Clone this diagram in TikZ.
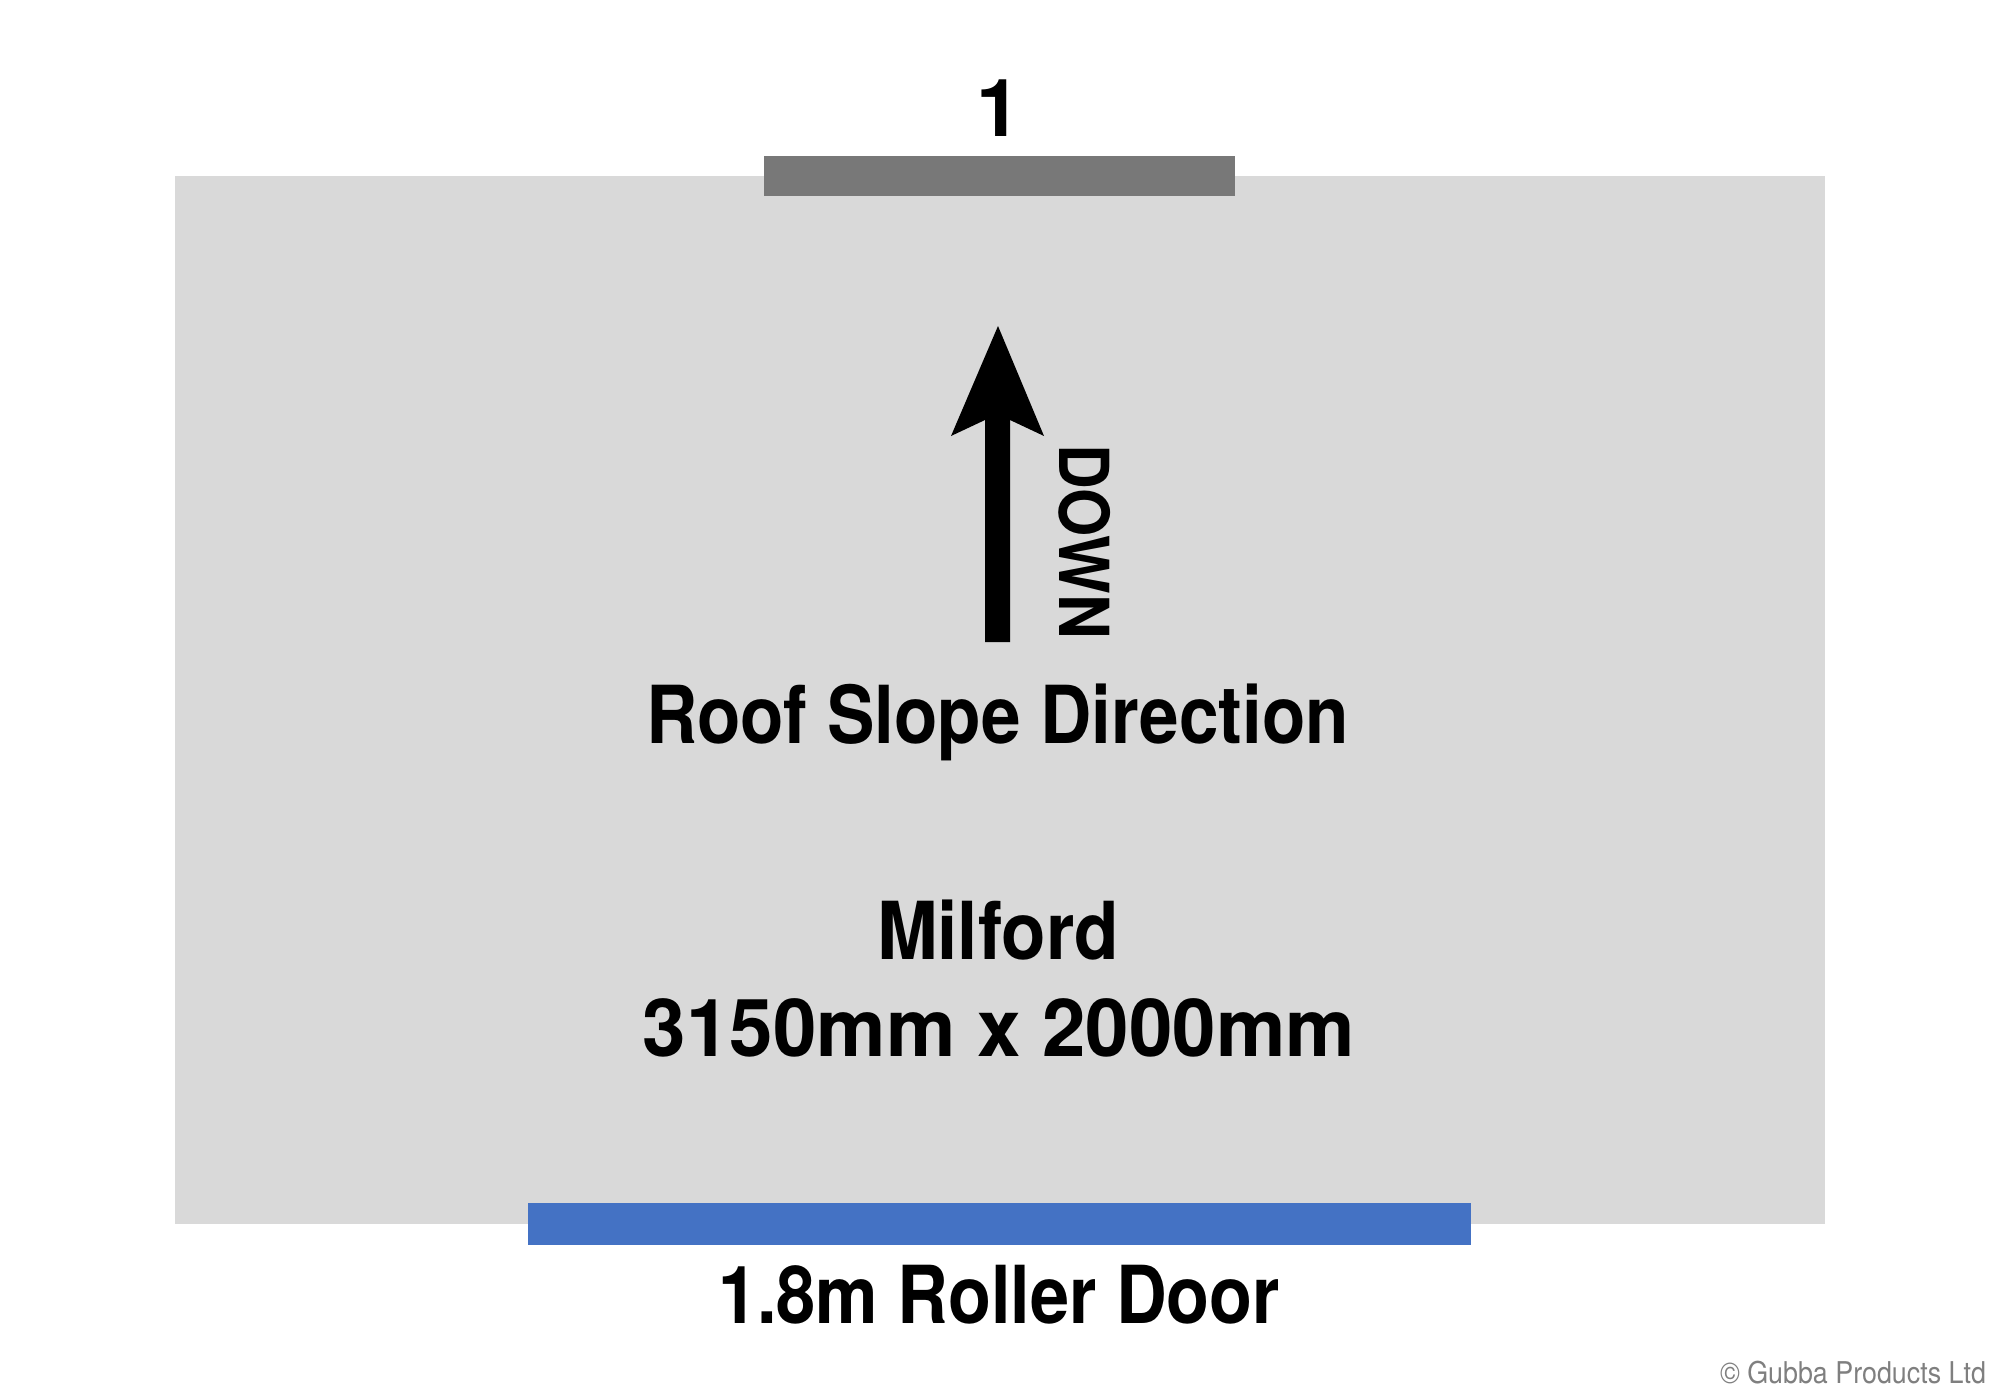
\documentclass[tikz,border=0pt]{standalone}
\usepackage{fontspec}
\setmainfont{TeX Gyre Heros}
\definecolor{floorgray}{HTML}{D9D9D9}
\definecolor{wallgray}{HTML}{787878}
\definecolor{doorblue}{HTML}{4472C4}
\definecolor{notegray}{HTML}{7F7F7F}
\newcommand\fitw[2]{\resizebox{#1}{\height}{#2}}
\begin{document}
\begin{tikzpicture}[x=1pt,y=-1pt,
  bigtext/.style={inner sep=0pt,outer sep=0pt,anchor=base,font=\fontsize{80}{96}\selectfont\bfseries},
  smalltext/.style={inner sep=0pt,outer sep=0pt,anchor=base,text=notegray,font=\fontsize{30}{36}\selectfont}]
\useasboundingbox (0,0) rectangle (2000,1400);
% floor
\fill[floorgray] (175,176) rectangle (1825,1224);
% top wall panel
\fill[wallgray] (764,156) rectangle (1235,196);
% roller door
\fill[doorblue] (528,1203) rectangle (1471,1245);
% arrow
\fill[black] (998,326) -- (1044,436) -- (1010,420) -- (1010,642) -- (985,642) -- (985,420) -- (951,436) -- cycle;
% labels
\node[bigtext] (one) at (999,136) {1};
\node[inner sep=0pt,outer sep=0pt,rotate=-90,font=\fontsize{69}{80}\selectfont\bfseries] (down) at (1085,541.5) {\fitw{195pt}{DOWN}};
\node[bigtext] (roof) at (997.5,743) {\fitw{703pt}{Roof Slope Direction}};
\node[bigtext] (name) at (998,959) {\fitw{242pt}{Milford}};
\node[bigtext] (dims) at (999,1056) {\fitw{712pt}{3150mm x 2000mm}};
\node[bigtext] (door) at (999,1323) {\fitw{562pt}{1.8m Roller Door}};
\node[smalltext] (copy) at (1853,1383) {\fitw{266pt}{© Gubba Products Ltd}};
\end{tikzpicture}
\end{document}
